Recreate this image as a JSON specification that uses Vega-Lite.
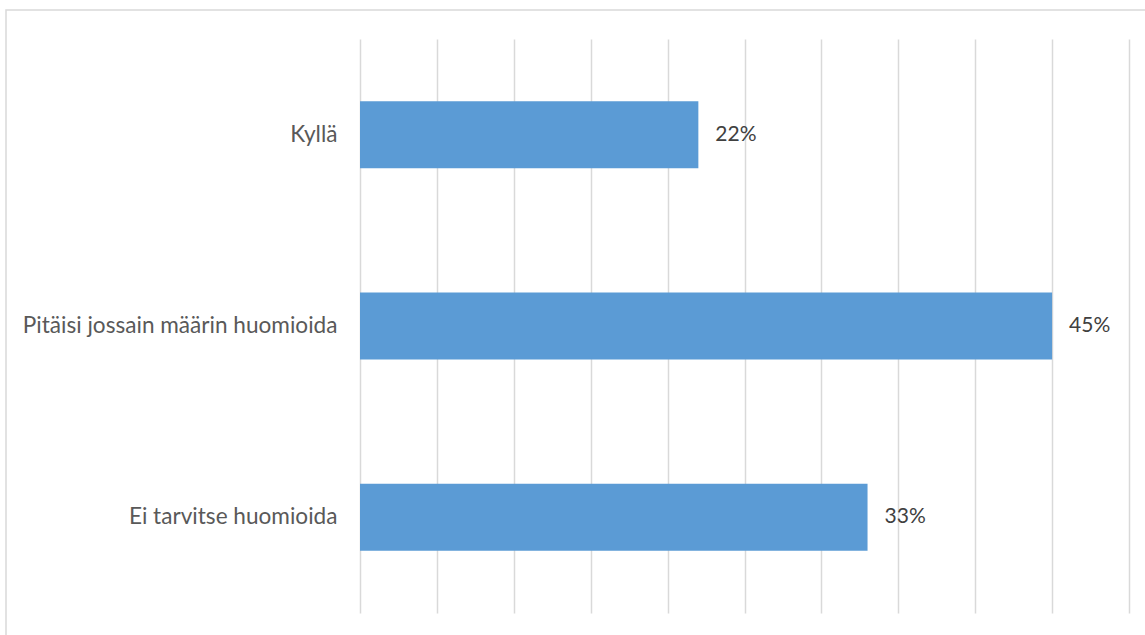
{
  "$schema": "https://vega.github.io/schema/vega-lite/v6.json",
  "autosize": "none",
  "padding": {"left": 6, "top": 10, "right": 0, "bottom": 0},
  "width": 1145,
  "height": 640,
  "background": "white",
  "config": {
    "view": {"stroke": "#d9d9d9", "strokeWidth": 1.5},
    "font": "Lato"
  },
  "data": {
    "values": [
      {"vastaus": "Kyllä", "osuus": 0.22},
      {"vastaus": "Pitäisi jossain määrin huomioida", "osuus": 0.45},
      {"vastaus": "Ei tarvitse huomioida", "osuus": 0.33}
    ]
  },
  "encoding": {
    "y": {
      "field": "vastaus",
      "type": "nominal",
      "sort": null,
      "scale": {"range": [29, 603], "paddingInner": 0.65, "paddingOuter": 0.325},
      "axis": {
        "title": null,
        "domain": false,
        "ticks": false,
        "tickSize": 0,
        "labelPadding": 0,
        "offset": -331,
        "labelFont": "Lato",
        "labelFontSize": 22.6,
        "labelColor": "#595959",
        "labelLimit": 400,
        "grid": false
      }
    },
    "x": {
      "field": "osuus",
      "type": "quantitative",
      "scale": {"domain": [0, 0.5], "range": [354, 1123], "nice": false, "zero": true},
      "axis": {
        "orient": "top",
        "title": null,
        "labels": false,
        "ticks": false,
        "domain": false,
        "grid": true,
        "gridColor": "#d9d9d9",
        "gridWidth": 1.5,
        "values": [0, 0.05, 0.1, 0.15, 0.2, 0.25, 0.3, 0.35, 0.4, 0.45, 0.5]
      }
    }
  },
  "layer": [
    {"mark": {"type": "bar", "color": "#5b9bd5"}},
    {
      "mark": {"type": "text", "align": "left", "baseline": "middle", "dx": 17, "font": "Lato", "fontSize": 21, "color": "#404040"},
      "encoding": {"text": {"field": "osuus", "type": "quantitative", "format": ".0%"}}
    }
  ]
}
